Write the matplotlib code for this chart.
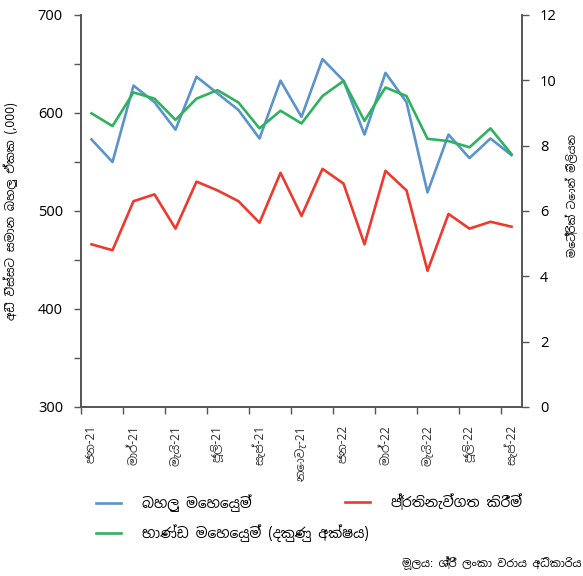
import matplotlib
matplotlib.use("Agg")
import matplotlib.pyplot as plt
from matplotlib import font_manager
from matplotlib.ticker import MultipleLocator, FixedLocator, NullFormatter

months = ["ජන-21", "පෙබ-21", "මාර්-21", "අප්‍රේ-21", "මැයි-21", "ජූනි-21", "ජූලි-21",
          "අගෝ-21", "සැප්-21", "ඔක්-21", "නොවැ-21", "දෙසැ-21",
          "ජන-22", "පෙබ-22", "මාර්-22", "අප්‍රේ-22", "මැයි-22", "ජූනි-22", "ජූලි-22",
          "අගෝ-22", "සැප්-22"]

container_ops = [573, 550, 628, 611, 583, 637, 620, 603, 574, 633, 596, 655,
                 633, 578, 641, 611, 519, 578, 554, 574, 557]
transshipment = [466, 460, 510, 517, 482, 530, 521, 510, 488, 539, 495, 543,
                 528, 466, 541, 521, 439, 497, 482, 489, 484]
cargo_ops = [8.99, 8.60, 9.63, 9.44, 8.79, 9.44, 9.70, 9.32, 8.53, 9.07, 8.68, 9.52,
             9.98, 8.76, 9.78, 9.52, 8.21, 8.14, 7.95, 8.53, 7.74]

lbl_container = "බහලු මෙහෙයුම්"
lbl_trans = "ප්‍රතිනැව්ගත කිරීම්"
lbl_cargo = "භාණ්ඩ මෙහෙයුම් (දකුණු අක්ෂය)"
ylabel_left = "අඩි විස්සට සමාන බහලු ඒකක (,000)"
ylabel_right = "මෙට්‍රික් ටොන් මිලියන"
source = "මූලය: ශ්‍රී ලංකා වරාය අධිකාරිය"

# pick a font that covers Sinhala if any is installed
names = sorted({f.name for f in font_manager.fontManager.ttflist})
fams = [n for n in names if "Sinhala" in n or "Iskoola" in n]
plt.rcParams['font.family'] = fams + ['DejaVu Sans']

BLUE = "#5B93CB"
RED = "#EE3A2E"
GREEN = "#2FB25E"
AXC = "#555555"

W, H = 583, 576
fig = plt.figure(figsize=(W/100, H/100), dpi=100)
ax = fig.add_axes([81/W, 1-407/H, (522-81)/W, (407-15)/H])
ax2 = ax.twinx()

x = list(range(len(months)))
l1, = ax.plot(x, container_ops, color=BLUE, lw=1.9, label=lbl_container)
l2, = ax.plot(x, transshipment, color=RED, lw=1.9, label=lbl_trans)
l3, = ax2.plot(x, cargo_ops, color=GREEN, lw=1.9, label=lbl_cargo)

ax.set_xlim(-0.5, len(months) - 0.5)
ax.set_ylim(300, 700)
ax2.set_ylim(0, 12)
ax.yaxis.set_major_locator(MultipleLocator(100))
ax.yaxis.set_minor_locator(MultipleLocator(50))
ax2.yaxis.set_major_locator(MultipleLocator(2))

ax.xaxis.set_major_locator(FixedLocator([i - 0.5 for i in range(0, len(months) + 1, 2)]))
ax.xaxis.set_major_formatter(NullFormatter())
ax.xaxis.set_minor_locator(FixedLocator(list(range(0, len(months), 2))))
ax.set_xticklabels([months[i] for i in range(0, len(months), 2)], minor=True,
                   rotation=90, fontsize=8.5, color="#333333")
ax.tick_params(axis='x', which='minor', length=0, pad=13)
ax.tick_params(axis='x', which='major', length=5, width=1, color=AXC)

for a in (ax, ax2):
    a.spines['top'].set_visible(False)
    for s in a.spines.values():
        s.set_color(AXC)
        s.set_linewidth(1.2)
ax.tick_params(axis='y', which='both', length=5, width=1, color=AXC, labelsize=10.5, pad=8)
ax2.tick_params(axis='y', length=5, width=1, color=AXC, labelsize=10.5, pad=8)

ax.set_ylabel(ylabel_left, fontsize=8.5, labelpad=14)
ax2.set_ylabel(ylabel_right, fontsize=7.8, rotation=90, labelpad=6)
ax2.yaxis.set_label_coords(1.10, 0.54)

def add_leg(handle, px, py):
    fig.legend(handles=[handle], loc='center left', bbox_to_anchor=(px/W, 1-py/H),
               frameon=False, fontsize=10, handlelength=1.8, handletextpad=1.5,
               borderpad=0, borderaxespad=0)

add_leg(l1, 96, 503)
add_leg(l2, 345, 503)
add_leg(l3, 96, 533)

fig.text(581/W, 1-563/H, source, fontsize=8, va='center', ha='right')

fig.savefig("out.png", dpi=100)
